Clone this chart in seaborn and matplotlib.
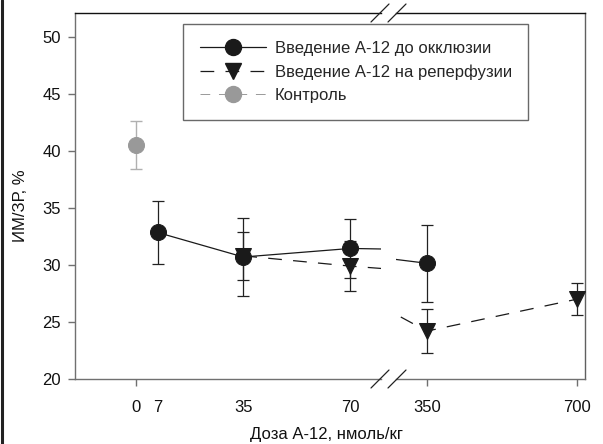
import matplotlib
matplotlib.use("Agg")
import matplotlib.pyplot as plt
from matplotlib.lines import Line2D
import numpy as np
import pandas as pd
import seaborn as sns

# data
dose_pre = [7, 35, 70, 350]
imzr_pre = [32.85, 30.7, 31.45, 30.15]
err_pre = [2.8, 3.4, 2.6, 3.4]

dose_rep = [35, 70, 350, 700]
imzr_rep = [30.8, 29.9, 24.2, 27.0]
err_rep = [2.1, 2.2, 1.9, 1.4]

dose_ctrl = [0]
imzr_ctrl = [40.5]
err_ctrl = [2.1]

left_ticks = [0, 7, 35, 70]
right_ticks = [350, 700]
y_ticks = [20, 25, 30, 35, 40, 45, 50]

label_pre = "Введение А-12 до окклюзии"
label_rep = "Введение А-12 на реперфузии"
label_ctrl = "Контроль"

df_pre = pd.DataFrame({"dose": dose_pre, "imzr": imzr_pre})
df_rep = pd.DataFrame({"dose": dose_rep, "imzr": imzr_rep})
df_ctrl = pd.DataFrame({"dose": dose_ctrl, "imzr": imzr_ctrl})

sns.set_style("ticks")
plt.rcParams["font.family"] = ["Liberation Sans", "DejaVu Sans"]
plt.rcParams["font.size"] = 12

W, H = 603, 444
fig = plt.figure(figsize=(W / 100, H / 100), dpi=100)


def fx(px):
    return px / W


def fy(py):
    return 1 - py / H


ax1 = fig.add_axes([fx(75), fy(379), fx(381) - fx(75), fy(13) - fy(379)])
ax2 = fig.add_axes([fx(396), fy(379), fx(585) - fx(396), fy(13) - fy(379)], sharey=ax1)

dash = (0, (11, 9))
for ax in (ax1, ax2):
    ax.errorbar(dose_pre, imzr_pre, yerr=err_pre, fmt="none", ecolor="#222222",
                elinewidth=0.9, capsize=4.5, capthick=0.9, zorder=2)
    ax.errorbar(dose_rep, imzr_rep, yerr=err_rep, fmt="none", ecolor="#222222",
                elinewidth=0.9, capsize=4.5, capthick=0.9, zorder=2)
    ax.errorbar(dose_ctrl, imzr_ctrl, yerr=err_ctrl, fmt="none", ecolor="#b0b0b0",
                elinewidth=1.0, capsize=4.5, capthick=1.0, zorder=2)
    sns.lineplot(data=df_pre, x="dose", y="imzr", ax=ax, color="#1a1a1a",
                 marker="o", markersize=11.5, markeredgecolor="#1a1a1a",
                 linewidth=0.9, zorder=3, legend=False)
    sns.lineplot(data=df_rep, x="dose", y="imzr", ax=ax, color="#1a1a1a",
                 marker="v", markersize=11.5, markeredgecolor="#1a1a1a",
                 linewidth=0.9, linestyle=dash, zorder=3, legend=False)
    sns.lineplot(data=df_ctrl, x="dose", y="imzr", ax=ax, color="#999999",
                 marker="o", markersize=11.5, markeredgecolor="#999999",
                 linewidth=0.9, zorder=3, legend=False)
    ax.set_xlabel("")
    ax.set_ylabel("")
    for side in ("left", "bottom"):
        ax.spines[side].set_color("#707070")
    ax.spines["top"].set_color("#111111")
    ax.spines["right"].set_color("#606060")
    for s in ax.spines.values():
        s.set_linewidth(1.0)
    ax.tick_params(axis="both", direction="out", length=5, width=1.0,
                   color="#707070", labelsize=12, labelcolor="#111111")

ax1.set_xlim(-20, 80)
ax2.set_xlim(278, 719)
ax1.set_ylim(20, 52.1)
ax1.set_yticks(y_ticks)
ax1.set_xticks(left_ticks)
ax1.set_xticklabels([str(t) for t in left_ticks])
ax2.set_xticks(right_ticks)
ax2.set_xticklabels([str(t) for t in right_ticks])
for t in ax1.xaxis.get_major_ticks()[1:]:
    t.tick1line.set_visible(False)
ax1.tick_params(axis="x", pad=10)
ax2.tick_params(axis="x", pad=10)
ax1.tick_params(axis="y", pad=5)
ax1.spines["right"].set_visible(False)
ax2.spines["left"].set_visible(False)
ax2.tick_params(axis="y", left=False, labelleft=False)

ax1.set_ylabel("ИМ/ЗР, %", fontsize=12, color="#111111")
ax1.yaxis.set_label_coords(-0.154, 0.473)
fig.text(fx(326), fy(434), "Доза А-12, нмоль/кг", ha="center", va="center",
         fontsize=12, color="#111111")

# axis break marks
for cx in (380, 397):
    for cy in (13, 379):
        fig.add_artist(Line2D([fx(cx - 9), fx(cx + 9)], [fy(cy + 9), fy(cy - 9)],
                              color="#222222", lw=0.9))

# left border of the figure
fig.add_artist(Line2D([fx(2), fx(2)], [0, 1], color="#222222", lw=2.2))

handles = [
    Line2D([], [], color="#1a1a1a", lw=0.9, marker="o", markersize=11.5),
    Line2D([], [], color="#1a1a1a", lw=0.9, ls=dash, marker="v", markersize=11.5),
    Line2D([], [], color="#999999", lw=0.7, ls=(0, (10, 9)), marker="o", markersize=11.5),
]
leg = fig.legend(handles, [label_pre, label_rep, label_ctrl], loc="upper left",
                 bbox_to_anchor=(fx(183), fy(24)), frameon=True, fancybox=False,
                 fontsize=12, handlelength=4.0, borderpad=1.0, labelspacing=0.5,
                 handletextpad=0.5, borderaxespad=0)
leg.get_frame().set_edgecolor("#444444")
leg.get_frame().set_linewidth(1.0)

fig.savefig("out.png", dpi=100)
